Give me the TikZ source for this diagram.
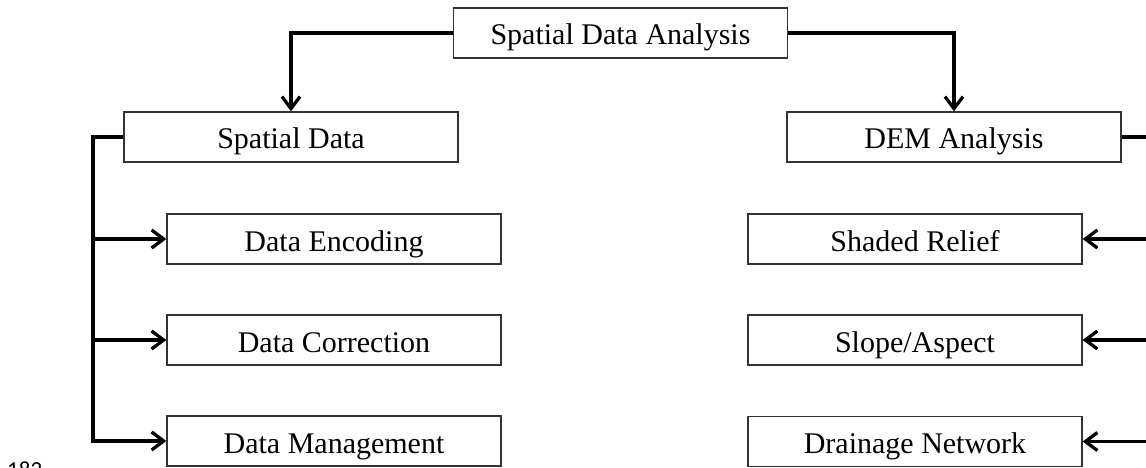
\documentclass[tikz,border=0pt]{standalone}
\usepackage{fontspec}
\setmainfont{Liberation Serif}
\newfontfamily\pagefont{Carlito}
\usetikzlibrary{arrows.meta}
\begin{document}
\begin{tikzpicture}[x=1pt,y=-1pt,
  box/.style={draw=black!80,line width=1.3pt,minimum width=334pt,minimum height=50pt,inner sep=0pt,text height=28pt,text depth=4pt,fill=white,font=\fontsize{30}{36}\selectfont},
  conn/.style={line width=3.3pt,-{Straight Barb[length=12pt,width=18pt]}}]
\clip (0,0) rectangle (1146,468);
\fill[white] (0,0) rectangle (1146,468);
\node[box] (top) at (620.5,33) {Spatial Data Analysis};
\node[box] (sd) at (291,137) {Spatial Data};
\node[box] (dem) at (954,137) {DEM Analysis};
\node[box] (de) at (334,239) {Data Encoding};
\node[box] (dc) at (334,340) {Data Correction};
\node[box] (dm) at (334,441) {Data Management};
\node[box] (sr) at (915,239) {Shaded Relief};
\node[box] (sa) at (915,340) {Slope/Aspect};
\node[box] (dn) at (915,441.5) {Drainage Network};
\coordinate (ls) at (93,137);
\coordinate (rs) at (1162,137);
\draw[conn] (top.west) -| (sd.north);
\draw[conn] (top.east) -| (dem.north);
\draw[conn] (sd.west) -- (ls) |- (dm.west);
\draw[conn] (ls |- de.west) -- (de.west);
\draw[conn] (ls |- dc.west) -- (dc.west);
\draw[conn] (dem.east) -- (rs) |- (dn.east);
\draw[conn] (rs |- sr.east) -- (sr.east);
\draw[conn] (rs |- sa.east) -- (sa.east);
\node[font=\pagefont\fontsize{23}{28}\selectfont,anchor=base west,inner sep=0pt] (pg) at (7,477) {182};
\end{tikzpicture}
\end{document}
